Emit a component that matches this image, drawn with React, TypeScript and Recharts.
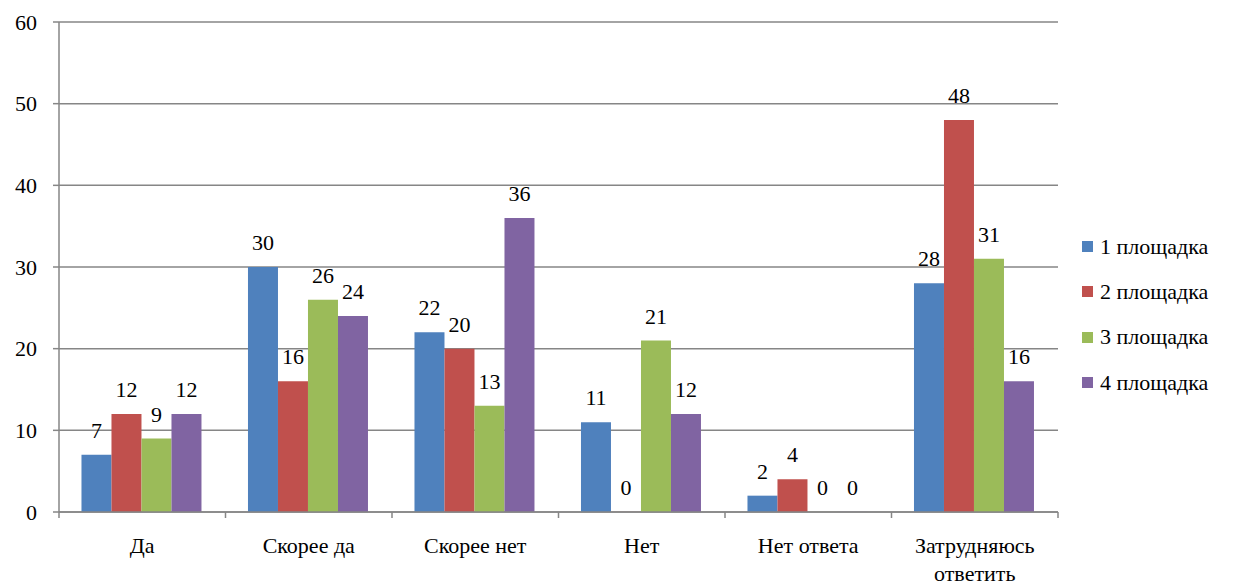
import React from 'react';
import { BarChart, Bar, XAxis, YAxis, CartesianGrid, Legend, LabelList } from 'recharts';

const categories = ['Да', 'Скорее да', 'Скорее нет', 'Нет', 'Нет ответа', 'Затрудняюсь ответить'];
const site1 = [7, 30, 22, 11, 2, 28];
const site2 = [12, 16, 20, 0, 4, 48];
const site3 = [9, 26, 13, 21, 0, 31];
const site4 = [12, 24, 36, 12, 0, 16];
const seriesNames = ['1 площадка', '2 площадка', '3 площадка', '4 площадка'];
const yTicks = [0, 10, 20, 30, 40, 50, 60];

const colors = ['#4F81BD', '#C0504D', '#9BBB59', '#8064A2'];
const FONT = '"Times New Roman", "Liberation Serif", Tinos, "DejaVu Serif", serif';
const FS = 22;
const AXIS = '#868686';

const data = categories.map((name, i) => ({
  name,
  s1: site1[i],
  s2: site2[i],
  s3: site3[i],
  s4: site4[i],
}));

const W = 1235;
const H = 585;
const LEGEND_W = 146;
const margin = { top: 22, right: 177 - LEGEND_W, bottom: 0, left: 0 };
const yAxisWidth = 59;
const band = (W - 177 - yAxisWidth) / categories.length;

const CategoryTick = ({ x, y, payload, index }: any) => {
  const words = String(payload.value);
  const lines = words === 'Затрудняюсь ответить' ? ['Затрудняюсь', 'ответить'] : [words];
  const left = x - band / 2;
  return (
    <g>
      <line x1={left} x2={left} y1={y - 8} y2={y - 2} stroke={AXIS} strokeWidth={1.5} />
      {index === categories.length - 1 && (
        <line x1={left + band} x2={left + band} y1={y - 8} y2={y - 2} stroke={AXIS} strokeWidth={1.5} />
      )}
      <text x={x} y={y + 33} textAnchor="middle" fill="#000" fontSize={FS} style={{ fontFamily: FONT }}>
        {lines.map((l, i) => (
          <tspan key={i} x={x} dy={i === 0 ? 0 : 28}>{l}</tspan>
        ))}
      </text>
    </g>
  );
};

const LegendContent = () => (
  <div style={{ fontFamily: FONT, fontSize: FS, color: '#000' }}>
    {seriesNames.map((n, i) => (
      <div key={n} style={{ display: 'flex', alignItems: 'center', height: 45.3, whiteSpace: 'nowrap' }}>
        <span style={{ width: 11, height: 11, background: colors[i], marginRight: 7, display: 'inline-block' }} />
        {n}
      </div>
    ))}
  </div>
);

export default function App() {
  const keys = ['s1', 's2', 's3', 's4'];
  return (
    <div style={{ position: 'absolute', left: 0, top: 0, width: W, height: H, background: '#fff', fontFamily: FONT }}>
      <BarChart width={W} height={H} data={data} margin={margin} barCategoryGap="13.5%" barGap={0}>
        <CartesianGrid vertical={false} stroke={AXIS} strokeWidth={1.5} />
        <XAxis
          dataKey="name"
          height={73}
          axisLine={{ stroke: AXIS, strokeWidth: 1.5 }}
          tickLine={false}
          tick={<CategoryTick />}
          interval={0}
        />
        <YAxis
          width={yAxisWidth}
          domain={[0, 60]}
          ticks={yTicks}
          axisLine={{ stroke: AXIS, strokeWidth: 1.5 }}
          tickLine={{ stroke: AXIS, strokeWidth: 1.5 }}
          tickSize={6}
          tick={{ fill: '#000', fontSize: FS, style: { fontFamily: FONT } }}
          tickMargin={16}
        />
        <Legend
          layout="vertical"
          align="right"
          verticalAlign="top"
          content={<LegendContent />}
          wrapperStyle={{ left: 1082, top: 224, width: LEGEND_W }}
        />
        {keys.map((k, i) => (
          <Bar
            key={k}
            dataKey={k}
            name={seriesNames[i]}
            fill={colors[i]}
            minPointSize={(v: number) => (v === 0 ? 0.1 : 0)}
            isAnimationActive={false}
          >
            <LabelList dataKey={k} position="top" offset={17} fill="#000" fontSize={FS} style={{ fontFamily: FONT }} />
          </Bar>
        ))}
      </BarChart>
    </div>
  );
}
